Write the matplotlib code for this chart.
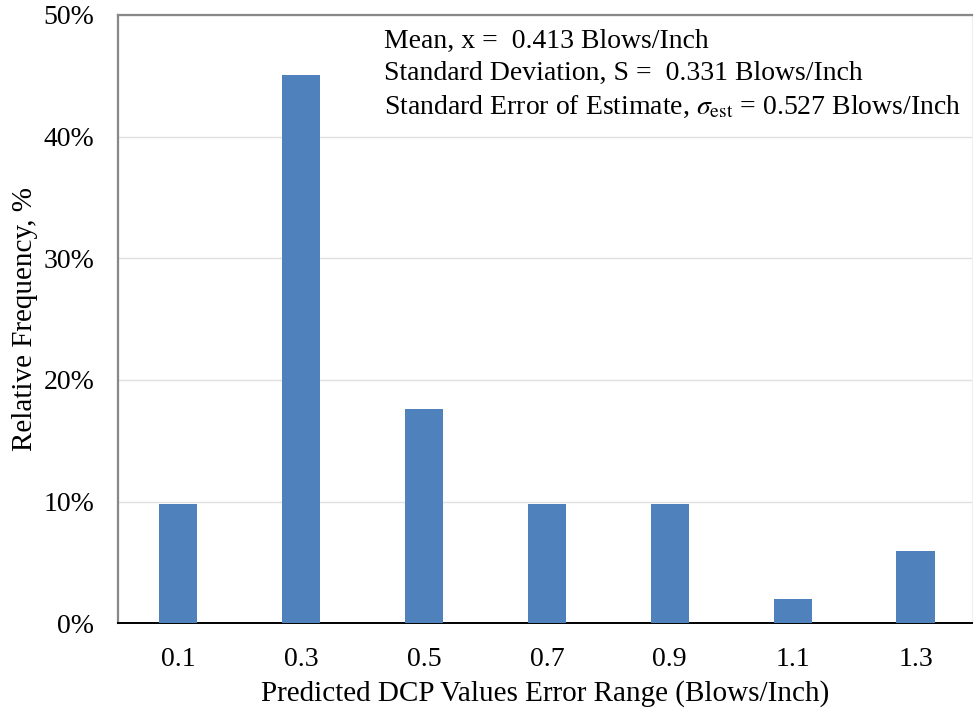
import matplotlib
matplotlib.use("Agg")
import matplotlib.pyplot as plt
from matplotlib.ticker import PercentFormatter

plt.rcParams['font.family'] = ['Liberation Serif', 'DejaVu Serif']
plt.rcParams['mathtext.fontset'] = 'stix'

# error range bins and their relative frequency (%)
bins = ['0.1', '0.3', '0.5', '0.7', '0.9', '1.1', '1.3']
freq = [9.8, 45.1, 17.6, 9.8, 9.8, 2.0, 5.9]

stats_text = ("Mean, x =  0.413 Blows/Inch\n"
              "Standard Deviation, S =  0.331 Blows/Inch\n"
              r"Standard Error of Estimate, $\sigma_{\rm est}$ = 0.527 Blows/Inch")

fig = plt.figure(figsize=(9.75, 7.13), dpi=100)
ax = fig.add_axes([0.121, 0.126, 0.876, 0.853])

x = range(len(bins))
ax.bar(x, freq, width=0.31, color='#4f81bd', zorder=3)

ax.set_xlim(-0.49, 6.46)
ax.set_ylim(0, 50)
ax.set_xticks(list(x))
ax.set_xticklabels(bins)
ax.set_yticks(range(0, 51, 10))
ax.yaxis.set_major_formatter(PercentFormatter(decimals=0))
ax.tick_params(axis='both', length=0, labelsize=20)
ax.tick_params(axis='x', pad=17)
ax.tick_params(axis='y', pad=17)

# light horizontal grid
ax.grid(axis='y', color='#e0e0e0', linewidth=1, zorder=0)

for side in ['top', 'left']:
    ax.spines[side].set_color('#888888')
    ax.spines[side].set_linewidth(1.6)
ax.spines['right'].set_color('#eeeeee')
ax.spines['bottom'].set_color('black')
ax.spines['bottom'].set_linewidth(1.4)

ax.set_xlabel('Predicted DCP Values Error Range (Blows/Inch)', fontsize=21, labelpad=6)
ax.set_ylabel('Relative Frequency, %', fontsize=21, labelpad=4)

ax.text(0.311, 0.977, stats_text, transform=ax.transAxes, fontsize=20,
        va='top', ha='left', linespacing=1.38)

fig.savefig('out.png', dpi=100)
